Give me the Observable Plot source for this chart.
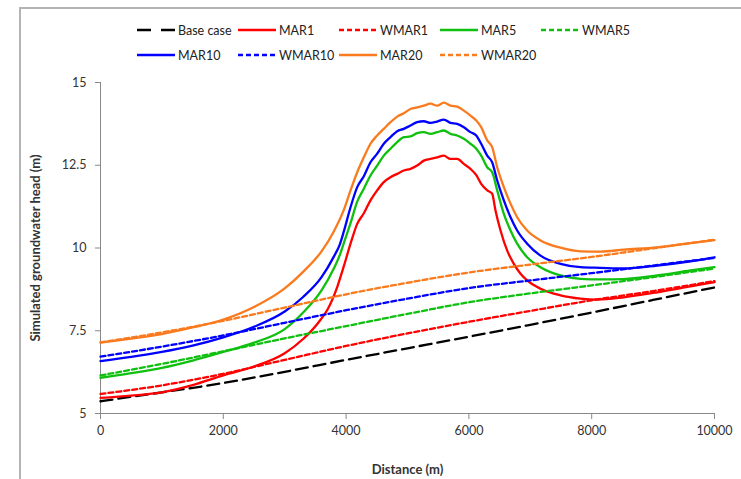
<!DOCTYPE html>
<html><head><meta charset="utf-8">
<script src="https://cdn.jsdelivr.net/npm/d3@7"></script>
<script src="https://cdn.jsdelivr.net/npm/@observablehq/plot@0.6"></script>
<style>
body{margin:0;background:#fff;font-family:Lato,"Open Sans",sans-serif;}
#wrap{position:relative;width:741px;height:479px;overflow:hidden;background:#fff;}
#frame{position:absolute;left:19px;top:7px;width:800px;height:600px;border-left:2px solid #b4b4b4;border-top:2px solid #b4b4b4;pointer-events:none;}
#legend{position:relative;height:68px;}
.item{position:absolute;display:flex;align-items:center;font-size:12.5px;color:#222;white-space:nowrap;}
.item svg{margin-right:3px;}
g[aria-label="x-axis label"] text, g[aria-label="y-axis label"] text{font-weight:bold;font-size:13px;}
</style></head>
<body>
<div id="wrap"><div id="legend"></div><div id="chart"></div><div id="frame"></div></div>
<script>
// ---- data ----
const xTicks = [0, 2000, 4000, 6000, 8000, 10000];
const yTicks = [5, 7.5, 10, 12.5, 15];
const seriesNames = ["Base case","MAR1","WMAR1","MAR5","WMAR5","MAR10","WMAR10","MAR20","WMAR20"];

const baseCase = [[0,5.37],[1000,5.64],[2000,5.92],[3000,6.26],[4000,6.62],[5000,6.97],[6000,7.32],[7000,7.68],[8000,8.05],[9000,8.43],[10000,8.81]];
const wmar1 = [[0,5.59],[1000,5.85],[2000,6.2],[3000,6.62],[4000,7.04],[5000,7.42],[6000,7.77],[7000,8.1],[8000,8.42],[9000,8.7],[10000,9.0]];
const wmar5 = [[0,6.15],[1000,6.5],[2000,6.88],[3000,7.27],[4000,7.64],[5000,8.01],[6000,8.36],[7000,8.63],[8000,8.87],[9000,9.12],[10000,9.38]];
const wmar10 = [[0,6.72],[1000,7.02],[2000,7.36],[3000,7.74],[4000,8.12],[5000,8.47],[6000,8.79],[7000,9.02],[8000,9.24],[9000,9.47],[10000,9.70]];
const wmar20 = [[0,7.15],[1000,7.45],[2000,7.80],[3000,8.2],[4000,8.6],[5000,8.95],[6000,9.26],[7000,9.5],[8000,9.73],[9000,9.99],[10000,10.25]];

const mar1 = [[0,5.47],[500,5.54],[1000,5.64],[1500,5.86],[2000,6.15],[2500,6.42],[3000,6.82],[3300,7.25],[3550,7.75],[3700,8.15],[3855,8.82],[3963,9.45],[4072,10.13],[4181,10.73],[4289,11.05],[4397,11.44],[4506,11.74],[4614,11.99],[4723,12.14],[4832,12.24],[4940,12.34],[5049,12.39],[5157,12.49],[5266,12.64],[5375,12.69],[5483,12.74],[5592,12.79],[5700,12.69],[5809,12.69],[5918,12.54],[6026,12.39],[6120,12.2],[6200,11.94],[6300,11.74],[6379,11.64],[6433,11.13],[6515,10.53],[6624,9.92],[6732,9.52],[6841,9.22],[6949,9.02],[7166,8.77],[7492,8.57],[7818,8.47],[8100,8.44],[8523,8.51],[9066,8.66],[9609,8.84],[10000,8.97]];
const mar5 = [[0,6.08],[500,6.22],[1000,6.38],[1500,6.6],[2000,6.86],[2500,7.14],[3000,7.55],[3300,8.05],[3600,8.72],[3800,9.38],[3900,9.8],[3963,10.15],[4072,10.75],[4181,11.4],[4289,11.79],[4397,12.19],[4506,12.49],[4614,12.79],[4723,13.0],[4832,13.2],[4940,13.35],[5049,13.37],[5157,13.47],[5266,13.5],[5375,13.45],[5483,13.5],[5592,13.55],[5700,13.45],[5809,13.4],[5918,13.3],[6026,13.15],[6120,13.0],[6200,12.79],[6298,12.44],[6379,12.29],[6461,11.74],[6569,11.03],[6678,10.53],[6786,10.13],[6949,9.72],[7166,9.42],[7492,9.17],[7818,9.07],[8143,9.05],[8523,9.06],[9066,9.17],[9609,9.32],[10000,9.42]];
const mar10 = [[0,6.58],[500,6.71],[1000,6.86],[1500,7.05],[2000,7.3],[2500,7.62],[3000,8.08],[3300,8.52],[3600,9.12],[3800,9.74],[3900,10.12],[3963,10.5],[4072,11.23],[4181,11.84],[4289,12.17],[4397,12.59],[4506,12.85],[4614,13.15],[4723,13.35],[4832,13.53],[4940,13.6],[5049,13.7],[5157,13.8],[5266,13.83],[5375,13.78],[5483,13.82],[5592,13.88],[5700,13.78],[5809,13.75],[5918,13.65],[6026,13.5],[6120,13.4],[6200,13.15],[6298,12.79],[6379,12.59],[6461,12.04],[6569,11.44],[6678,10.93],[6786,10.53],[6949,10.13],[7166,9.77],[7492,9.52],[7818,9.42],[8143,9.40],[8523,9.38],[9066,9.47],[9609,9.6],[10000,9.72]];
const mar20 = [[0,7.14],[500,7.26],[1000,7.4],[1500,7.6],[2000,7.84],[2500,8.22],[3000,8.78],[3300,9.28],[3600,9.9],[3800,10.5],[3963,11.15],[4072,11.74],[4181,12.29],[4289,12.74],[4397,13.15],[4506,13.4],[4614,13.6],[4723,13.8],[4832,13.97],[4940,14.07],[5049,14.2],[5157,14.25],[5266,14.3],[5375,14.36],[5483,14.3],[5592,14.39],[5700,14.3],[5809,14.27],[5918,14.15],[6026,14.0],[6120,13.85],[6200,13.65],[6298,13.25],[6379,13.05],[6461,12.44],[6569,11.84],[6678,11.34],[6786,10.93],[6949,10.53],[7166,10.23],[7492,10.01],[7818,9.9],[8143,9.89],[8523,9.95],[9066,10.02],[9609,10.15],[10000,10.24]];

// ---- styles ----
const seriesData = [baseCase, mar1, wmar1, mar5, wmar5, mar10, wmar10, mar20, wmar20];
const colors = ["#000000","#ff0000","#ff0000","#10c010","#10c010","#0000ff","#0000ff","#fa7a1e","#fa7a1e"];
const dashes = ["12,6", null, "5,3", null, "5,3", null, "5,3", null, "5,3"];
const legendDash = ["14,10", null, "5,3", null, "5,3", null, "5,3", null, "5,3"];

const rows = seriesNames.flatMap((name, i) => seriesData[i].map(([x, y]) => ({name, x, y})));

const lineMarks = seriesNames.map((name, i) => Plot.line(rows.filter(r => r.name === name), {
  x: "x", y: "y", stroke: colors[i], strokeWidth: 2.3,
  strokeDasharray: dashes[i] || undefined, curve: "monotone-x"
}));

const chart = Plot.plot({
  width: 741, height: 411,
  marginTop: 14, marginBottom: 66, marginLeft: 100, marginRight: 27,
  style: {fontFamily: "Lato, 'Open Sans', sans-serif", fontSize: "12.5px", color: "#333", background: "transparent", overflow: "visible"},
  x: {domain: [0, 10000]},
  y: {domain: [5, 15]},
  marks: [
    Plot.axisX({ticks: xTicks, tickSize: 6, tickPadding: 7, stroke: "#888", tickFormat: d => String(d),
      label: "Distance (m)", labelAnchor: "center", labelOffset: 60, labelArrow: "none"}),
    Plot.axisY({ticks: yTicks, tickSize: 5, tickPadding: 9, stroke: "#888", tickFormat: d => String(d),
      label: "Simulated groundwater head (m)", labelAnchor: "center", labelOffset: 70, labelArrow: "none"}),
    Plot.ruleX([0], {stroke: "#888"}),
    Plot.ruleY([5], {stroke: "#888"}),
    ...lineMarks
  ]
});
document.getElementById("chart").appendChild(chart);

// ---- legend ----
const legend = document.getElementById("legend");
seriesNames.forEach((name, i) => {
  const row = i < 5 ? 0 : 1, col = i < 5 ? i : i - 5;
  const item = document.createElement("div");
  item.className = "item";
  item.style.left = (137 + col * 101) + "px";
  item.style.top = (row === 0 ? 22 : 47) + "px";
  const ns = "http://www.w3.org/2000/svg";
  const s = document.createElementNS(ns, "svg");
  s.setAttribute("width", 38); s.setAttribute("height", 16);
  const l = document.createElementNS(ns, "line");
  l.setAttribute("x1", 0); l.setAttribute("x2", 38); l.setAttribute("y1", 8); l.setAttribute("y2", 8);
  l.setAttribute("stroke", colors[i]); l.setAttribute("stroke-width", 2.6);
  if (legendDash[i]) l.setAttribute("stroke-dasharray", legendDash[i]);
  s.appendChild(l);
  item.appendChild(s);
  const t = document.createElement("span");
  t.textContent = name;
  item.appendChild(t);
  legend.appendChild(item);
});
</script>
</body></html>
